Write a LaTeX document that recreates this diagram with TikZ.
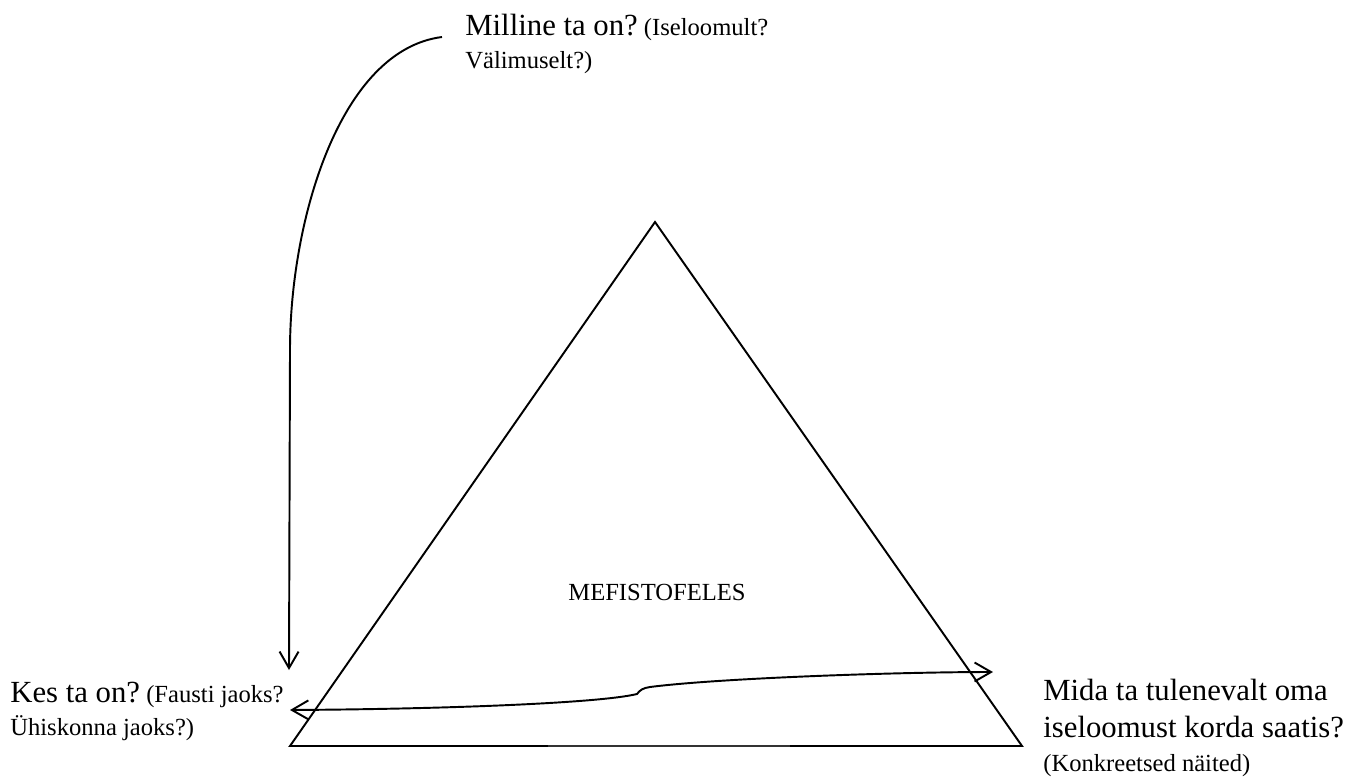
\documentclass[tikz,border=0pt]{standalone}
\usepackage{fontspec}
\setmainfont{Liberation Serif}
\usetikzlibrary{arrows.meta}
\newcommand{\BigTxt}{\fontsize{17.5}{21}\selectfont}
\newcommand{\SmallTxt}{\fontsize{14}{16}\selectfont}
\tikzset{
    txt/.style={inner sep=0pt,anchor=base west},
    barb/.style={line width=1.1pt,
        arrows={-Straight Barb[length=3.3mm,width=3.8mm]}},
    barbs/.style={line width=1.1pt,
        arrows={Straight Barb[length=3.3mm,width=3.8mm]-Straight Barb[length=3.3mm,width=3.8mm]}}
}
\begin{document}
\begin{tikzpicture}[x=0.02cm,y=-0.02cm]
\useasboundingbox (0,0) rectangle (1369,781);

% triangle
\coordinate (T) at (655,222) ;
\coordinate (L) at (290,746) ;
\coordinate (R) at (1022,746) ;
\coordinate (Lg) at (548,746) ;
\coordinate (Rg) at (790,746) ;
\draw[line width=1.1pt,line join=miter] (Lg) -- (L) -- (T) -- (R) -- (Rg) ;
\draw[line width=0.6pt,black!80] (Lg) -- (Rg) ;

\node[font=\fontsize{14}{17}\selectfont] (mefisto) at (657,592) {MEFISTOFELES};

% texts
\node[txt] (milline) at (465,35) {\BigTxt Milline ta on?\hspace{0.2em}\SmallTxt(Iseloomult?};
\node[txt] (valimus) at (465,68) {\SmallTxt Välimuselt?)};
\node[txt] (kes) at (10,702) {\BigTxt Kes ta on?\hspace{0.2em}\SmallTxt(Fausti jaoks?};
\node[txt] (yhis) at (10,735) {\SmallTxt Ühiskonna jaoks?)};
\node[txt] (mida) at (1043,700) {\BigTxt Mida ta tulenevalt oma};
\node[txt] (isel) at (1043,737) {\BigTxt iseloomust korda saatis?};
\node[txt] (konkr) at (1043,771) {\SmallTxt(Konkreetsed näited)};

% arrows
\coordinate (start) at (442,37) ;
\coordinate (down) at (289,670) ;
\coordinate (left) at (290,710) ;
\coordinate (right) at (993,672) ;
\draw[barb] (start) .. controls (340,50) and (290,220) .. (290,350) -- (down) ;
\draw[barbs] (left) .. controls (450,709) and (600,703) .. (637,694)
    .. controls (640,690) and (643,688) .. (650,687)
    .. controls (720,678) and (900,672) .. (right) ;

\end{tikzpicture}
\end{document}
